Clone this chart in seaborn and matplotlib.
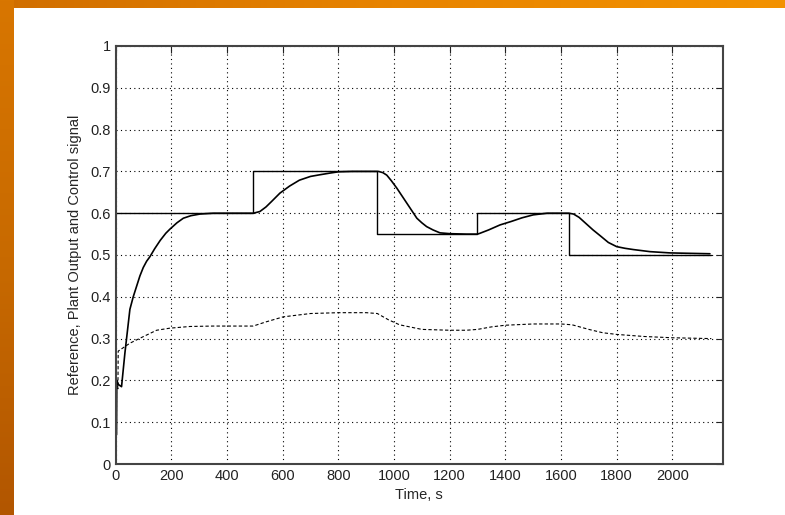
import numpy as np
import seaborn as sns
import matplotlib.pyplot as plt
from matplotlib.colors import LinearSegmentedColormap

# reference set-point (step changes)
ref_t = [0, 495, 940, 1297, 1628, 2140]
ref_v = [0.6, 0.7, 0.55, 0.6, 0.5, 0.5]

# plant output
out_t = [3, 4, 10, 21, 27, 33, 39, 45, 51, 63, 75, 87, 99, 111, 123, 140, 160, 180,
         195, 220, 243, 270, 303, 350, 495, 518, 540, 560, 590, 625, 660, 700, 734,
         770, 800, 850, 944, 960, 974, 990, 1010, 1030, 1046, 1065, 1082, 1100,
         1117, 1140, 1165, 1201, 1260, 1300, 1309, 1340, 1381, 1420, 1460, 1500,
         1550, 1628, 1645, 1665, 1690, 1715, 1741, 1770, 1800, 1830, 1860, 1920,
         1992, 2060, 2135]
out_v = [0.07, 0.20, 0.19, 0.185, 0.225, 0.265, 0.30, 0.335, 0.37, 0.40, 0.425,
         0.45, 0.47, 0.485, 0.496, 0.515, 0.535, 0.552, 0.562, 0.577, 0.588, 0.594,
         0.598, 0.60, 0.60, 0.604, 0.615, 0.628, 0.648, 0.665, 0.679, 0.688, 0.692,
         0.696, 0.699, 0.70, 0.70, 0.697, 0.691, 0.678, 0.66, 0.64, 0.624, 0.605,
         0.588, 0.577, 0.568, 0.56, 0.553, 0.551, 0.55, 0.55, 0.552, 0.56, 0.572,
         0.58, 0.589, 0.596, 0.60, 0.60, 0.598, 0.59, 0.575, 0.56, 0.546, 0.53,
         0.52, 0.516, 0.513, 0.508, 0.505, 0.504, 0.503]

# control signal
ctl_t = [5, 8, 9, 20, 51, 100, 147, 195, 267, 350, 494, 540, 602, 626, 700, 800,
         900, 940, 980, 1020, 1100, 1200, 1260, 1300, 1350, 1400, 1500, 1600, 1640,
         1700, 1750, 1800, 1900, 2000, 2140]
ctl_v = [0.20, 0.18, 0.27, 0.275, 0.289, 0.305, 0.32, 0.325, 0.329, 0.33, 0.33,
         0.34, 0.352, 0.354, 0.36, 0.362, 0.362, 0.36, 0.345, 0.333, 0.322, 0.32,
         0.32, 0.322, 0.328, 0.332, 0.335, 0.335, 0.333, 0.322, 0.314, 0.31, 0.305,
         0.302, 0.30]

sns.set_style("white")
plt.rcParams['font.family'] = ['Liberation Sans', 'DejaVu Sans']

fig = plt.figure(figsize=(7.85, 5.15), dpi=100)

# orange slide frame (top and left bands)
top = fig.add_axes([0, 1 - 8 / 515, 1, 8 / 515])
top.imshow(np.linspace(0, 1, 256)[None, :], aspect='auto',
           cmap=LinearSegmentedColormap.from_list('t', ['#d06e00', '#e88400', '#f39200']))
top.axis('off')
left = fig.add_axes([0, 0, 14 / 785, 1])
left.imshow(np.linspace(0, 1, 256)[:, None], aspect='auto',
            cmap=LinearSegmentedColormap.from_list('l', ['#d87600', '#c86a00', '#b25600']))
left.axis('off')

ax = fig.add_axes([115.7 / 785, 1 - 464 / 515, (723 - 115.7) / 785, (464 - 46) / 515])

sns.lineplot(x=ref_t, y=ref_v, ax=ax, color='black', linewidth=1.0,
             drawstyle='steps-post', sort=False, estimator=None)
sns.lineplot(x=out_t, y=out_v, ax=ax, color='black', linewidth=1.2,
             sort=False, estimator=None)
sns.lineplot(x=ctl_t, y=ctl_v, ax=ax, color='black', linewidth=0.8,
             linestyle=(0, (3, 2)), sort=False, estimator=None)

ax.set_xlim(0, 2182)
ax.set_ylim(0, 1)
ax.set_xticks(np.arange(0, 2001, 200))
ax.set_yticks(np.arange(0, 1.01, 0.1))
ax.set_yticklabels(['0', '0.1', '0.2', '0.3', '0.4', '0.5', '0.6', '0.7', '0.8', '0.9', '1'])
ax.grid(True, color='black', linestyle=(0, (1, 3)), linewidth=0.8)
ax.tick_params(direction='in', length=5, top=True, right=True, labelsize=10.5,
               colors='#222222', width=0.8)
for s in ax.spines.values():
    s.set_color('#444444')
    s.set_linewidth(1.5)

ax.set_xlabel('Time, s', fontsize=10.5, labelpad=4)
ax.set_ylabel('Reference, Plant Output and Control signal', fontsize=10.5, labelpad=6)

fig.savefig('out.png', dpi=100)
